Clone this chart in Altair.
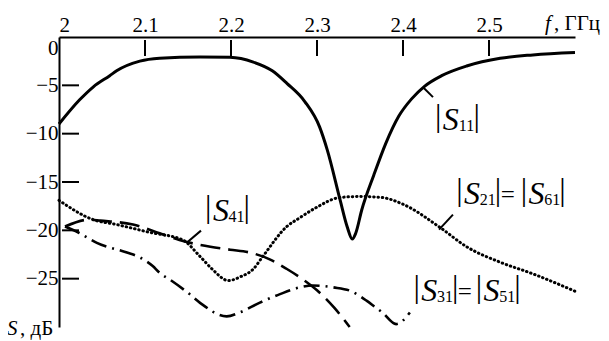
import altair as alt
import pandas as pd

FONT = "Liberation Serif"

# ---- data ----
s11_f = [2.000, 2.024, 2.040, 2.059, 2.067, 2.094, 2.117, 2.164, 2.199, 2.226, 2.248, 2.265,
         2.286, 2.303, 2.312, 2.327, 2.335, 2.341, 2.345, 2.352, 2.366, 2.380, 2.395, 2.410,
         2.425, 2.445, 2.474, 2.513, 2.551, 2.600]
s11_db = [-9.0, -6.5, -5.15, -4.0, -3.5, -2.5, -2.2, -2.06, -2.1, -2.6, -3.5, -4.8,
          -6.7, -9.3, -11.7, -16.9, -19.6, -20.9, -20.3, -17.9, -14.3, -11.0, -8.2, -6.4,
          -5.1, -4.0, -3.0, -2.2, -1.85, -1.6]

s21_f = [2.000, 2.040, 2.067, 2.105, 2.144, 2.164, 2.178, 2.197, 2.211, 2.226, 2.237, 2.265,
         2.280, 2.298, 2.327, 2.350, 2.375, 2.400, 2.443, 2.474, 2.513, 2.551, 2.600]
s21_db = [-16.9, -18.9, -19.4, -20.2, -21.0, -22.7, -24.0, -25.2, -24.8, -24.0, -22.7, -19.6,
          -18.7, -17.7, -16.6, -16.5, -16.6, -17.3, -19.7, -21.7, -23.3, -24.5, -26.3]

s41_f = [2.007, 2.035, 2.048, 2.086, 2.117, 2.140, 2.176, 2.199, 2.222, 2.245, 2.265, 2.284,
         2.300, 2.320, 2.338]
s41_db = [-19.6, -18.9, -19.0, -19.4, -20.3, -21.0, -21.7, -22.0, -22.3, -23.0, -24.0, -25.1,
          -26.2, -28.0, -30.0]

s31_f = [2.007, 2.022, 2.044, 2.079, 2.094, 2.109, 2.117, 2.129, 2.149, 2.164, 2.195, 2.210,
         2.233, 2.257, 2.280, 2.295, 2.319, 2.340, 2.358, 2.367, 2.376, 2.392, 2.408]
s31_db = [-19.6, -20.2, -21.3, -22.3, -22.8, -23.7, -24.4, -25.1, -26.4, -27.5, -28.9, -28.5,
          -27.5, -26.6, -25.9, -25.7, -25.9, -26.3, -27.3, -27.9, -28.5, -29.7, -28.5]

x_ticks = [2.0, 2.1, 2.2, 2.3, 2.4, 2.5]
y_ticks = [0, -5, -10, -15, -20, -25]

# curve labels: |S_nn| units (anchor = first bar, baseline)
unit_sub = ["11", "41", "21", "61", "31", "51"]
unit_f = [2.441, 2.1736, 2.4655, 2.5407, 2.4159, 2.4884]
unit_db = [-9.6, -19.0, -17.25, -17.25, -27.35, -27.35]
eq_f = [2.522, 2.472]
eq_db = [-17.25, -27.35]

# leader lines
lead_f1 = [2.4233, 2.1651, 2.4581]
lead_db1 = [-5.19, -20.03, -18.38]
lead_f2 = [2.4349, 2.1488, 2.4419]
lead_db2 = [-6.22, -21.27, -19.93]

# ---- chart ----
W, H = 516, 290
xs = alt.Scale(domain=[2.0, 2.6], nice=False, zero=False)
ys = alt.Scale(domain=[-30, 0], nice=False, zero=False)

x_axis = alt.Axis(orient="top", values=x_ticks, format="~g", ticks=False, tickSize=0,
                  grid=False, domainColor="black", domainWidth=2, labelFont=FONT,
                  labelFontSize=21, labelColor="black", labelPadding=2, title=None)
y_axis = alt.Axis(orient="left", values=y_ticks, format="d", ticks=False, tickSize=0,
                  grid=False, domainColor="black", domainWidth=2, labelFont=FONT,
                  labelFontSize=21, labelColor="black", labelPadding=1, title=None,
                  labelBaseline={"condition": {"test": "datum.value == 0", "value": "top"},
                                 "value": "middle"})

X = alt.X("f:Q", scale=xs, axis=x_axis)
Y = alt.Y("dB:Q", scale=ys, axis=y_axis)


def df(f, db):
    return pd.DataFrame({"f": f, "dB": db})


s11 = alt.Chart(df(s11_f, s11_db)).mark_line(
    color="black", strokeWidth=3, interpolate="monotone").encode(x=X, y=Y)
s21 = alt.Chart(df(s21_f, s21_db)).mark_line(
    color="black", strokeWidth=3, strokeDash=[0.5, 3.8], strokeCap="round",
    interpolate="monotone").encode(x=X, y=Y)
s41 = alt.Chart(df(s41_f, s41_db)).mark_line(
    color="black", strokeWidth=2.6, strokeDash=[20, 8],
    interpolate="monotone").encode(x=X, y=Y)
s31 = alt.Chart(df(s31_f, s31_db)).mark_line(
    color="black", strokeWidth=2.6, strokeDash=[16, 6, 2, 6],
    interpolate="monotone").encode(x=X, y=Y)

xt = alt.Chart(pd.DataFrame({"f": x_ticks[1:]})).mark_rule(color="black", strokeWidth=2).encode(
    x=X, y=alt.value(3), y2=alt.value(19))
yt = alt.Chart(pd.DataFrame({"dB": y_ticks[1:]})).mark_rule(color="black", strokeWidth=2).encode(
    y=Y, x=alt.value(3), x2=alt.value(20))

lead = alt.Chart(pd.DataFrame({"f": lead_f1, "dB": lead_db1, "f2": lead_f2, "dB2": lead_db2})
                 ).mark_rule(color="black", strokeWidth=2).encode(
    x=X, y=Y, x2="f2:Q", y2="dB2:Q")

units = alt.Chart(pd.DataFrame({"f": unit_f, "dB": unit_db, "sub": unit_sub}))
bar1 = units.mark_text(text="|", font=FONT, fontSize=32, color="black", align="center",
                       baseline="alphabetic", dy=-4).encode(x=X, y=Y)
sS = units.mark_text(text="S", font=FONT, fontSize=32, fontStyle="italic", color="black",
                     align="center", baseline="alphabetic", dx=12.6).encode(x=X, y=Y)
sub = units.mark_text(font=FONT, fontSize=16, color="black", align="center",
                      baseline="alphabetic", dx=28.3, dy=1).encode(x=X, y=Y, text="sub:N")
bar2 = units.mark_text(text="|", font=FONT, fontSize=32, color="black", align="center",
                       baseline="alphabetic", dx=38.5, dy=-4).encode(x=X, y=Y)
eq = alt.Chart(pd.DataFrame({"f": eq_f, "dB": eq_db})).mark_text(
    text="=", font=FONT, fontSize=25, color="black", align="center",
    baseline="alphabetic", dy=-1).encode(x=X, y=Y)

# axis names
f_it = alt.Chart(pd.DataFrame({"t": ["f"]})).mark_text(
    font=FONT, fontSize=21, fontStyle="italic", color="black", align="left",
    baseline="alphabetic").encode(x=alt.value(486), y=alt.value(-6.7), text="t:N")
f_un = alt.Chart(pd.DataFrame({"t": [", ГГц"]})).mark_text(
    font=FONT, fontSize=21, color="black", align="left",
    baseline="alphabetic").encode(x=alt.value(495), y=alt.value(-6.7), text="t:N")
s_it = alt.Chart(pd.DataFrame({"t": ["S"]})).mark_text(
    font=FONT, fontSize=21, fontStyle="italic", color="black", align="left",
    baseline="alphabetic").encode(x=alt.value(-52), y=alt.value(298), text="t:N")
s_un = alt.Chart(pd.DataFrame({"t": [", дБ"]})).mark_text(
    font=FONT, fontSize=21, color="black", align="left",
    baseline="alphabetic").encode(x=alt.value(-39), y=alt.value(298), text="t:N")

chart = alt.layer(
    s11, s21, s41, s31, xt, yt, lead, bar1, sS, sub, bar2, eq, f_it, f_un, s_it, s_un
).properties(
    width=W, height=H, autosize="none",
    padding={"left": 51, "top": 29, "right": 26, "bottom": 14},
    background="white",
).configure_view(stroke=None)

chart.save("out.html", embed_options={"renderer": "svg", "actions": False})
